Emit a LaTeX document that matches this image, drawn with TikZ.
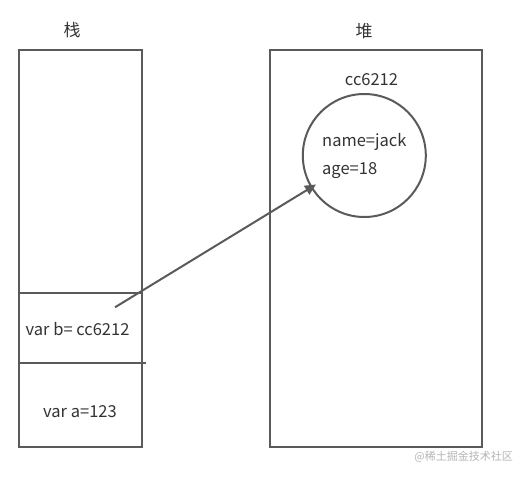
\documentclass[tikz,border=0pt]{standalone}
\usepackage{fontspec}
\setmainfont{Noto Sans CJK SC}
\usetikzlibrary{arrows.meta}
\definecolor{ln}{HTML}{5A5A5A}
\definecolor{tx}{HTML}{333333}
\definecolor{wm}{HTML}{B4B4B4}
\tikzset{
  box/.style={draw=ln, line width=2pt},
  lbl/.style={text=tx, font=\fontsize{16.5}{18}\selectfont, inner sep=0pt},
  hz/.style={text=tx, font=\fontsize{17}{19}\selectfont, inner sep=0pt},
  ptr/.style={draw=ln, line width=2pt, -{Triangle[length=11pt,width=10pt]}},
}
\begin{document}
\begin{tikzpicture}[x=1pt,y=-1pt]
\useasboundingbox (0,0) rectangle (527,477);
% stack
\node[hz] (stk) at (72,30) {栈};
\draw[box] (19,49.5) rectangle (142,446.5);
\coordinate (l1a) at (19,293.3);
\coordinate (l1b) at (142,293.3);
\coordinate (l2a) at (19,363.3);
\coordinate (l2b) at (145.5,363.3);
\draw[box] (l1a) -- (l1b);
\draw[box] (l2a) -- (l2b);
\node[lbl, anchor=west] (vb) at (25.5,329) {var b= cc6212};
\node[lbl, anchor=west] (va) at (43,412) {var a=123};
% heap
\node[hz] (hp) at (364,31) {堆};
\draw[box] (270,49.5) rectangle (481.5,446.5);
\node[lbl] (addr) at (371.5,80) {cc6212};
\node[draw=ln, line width=2pt, circle, minimum size=123pt, inner sep=0pt] (obj) at (364.3,155.5) {};
\node[lbl, anchor=west] (nm) at (322,141.5) {name=jack};
\node[lbl, anchor=west] (ag) at (322,171) {age=18};
% pointer
\coordinate (ps) at (115,307.3);
\coordinate (pe) at (316,184.5);
\draw[ptr] (ps) -- (pe);
% watermark
\node[text=wm, font=\fontsize{11}{12}\selectfont, inner sep=0pt, anchor=east] (wmk) at (513,457) {@稀土掘金技术社区};
\end{tikzpicture}
\end{document}
